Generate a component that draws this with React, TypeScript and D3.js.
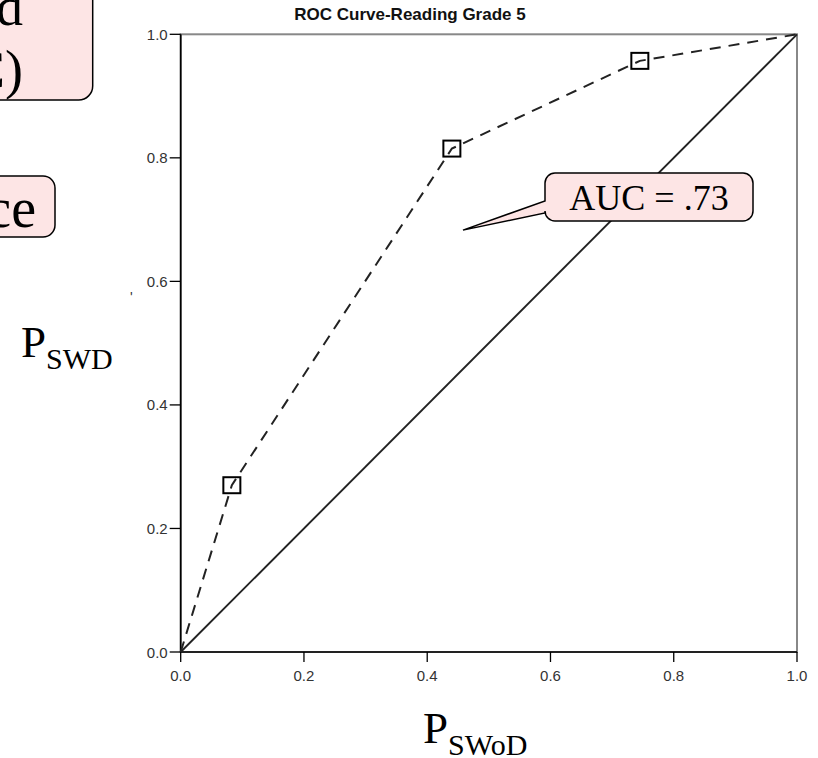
import * as d3 from 'd3'

// ROC points (1 - specificity vs sensitivity)
const rocFpr = [0, 0.083, 0.44, 0.745, 1]
const rocTpr = [0, 0.27, 0.815, 0.957, 1]
const markerIdx = [1, 2, 3]
const tickValues = [0, 0.2, 0.4, 0.6, 0.8, 1]
const chartTitle = 'ROC Curve-Reading Grade 5'
const aucLabel = 'AUC = .73'
const leftBoxLines = ['d', 'C)']
const leftBox2Text = 'ce'

const W = 818
const H = 758
const serif = '"Liberation Serif", "DejaVu Serif", serif'
const sans = '"Liberation Sans", Arial, sans-serif'
const pink = '#fde5e5'

// rounded rect path, optional pointer on the left edge
function calloutPath(x0: number, y0: number, x1: number, y1: number, r: number, ptr?: { ya: number; yb: number; tx: number; ty: number }) {
  const p = d3.path()
  p.moveTo(x0 + r, y0)
  p.lineTo(x1 - r, y0)
  p.arcTo(x1, y0, x1, y0 + r, r)
  p.lineTo(x1, y1 - r)
  p.arcTo(x1, y1, x1 - r, y1, r)
  p.lineTo(x0 + r, y1)
  p.arcTo(x0, y1, x0, y1 - r, r)
  if (ptr) {
    p.lineTo(x0, ptr.yb)
    p.lineTo(ptr.tx, ptr.ty)
    p.lineTo(x0, ptr.ya)
  }
  p.lineTo(x0, y0 + r)
  p.arcTo(x0, y0, x0 + r, y0, r)
  p.closePath()
  return p.toString()
}

export default function App() {
  const x = d3.scaleLinear().domain([0, 1]).range([180.7, 797])
  const y = d3.scaleLinear().domain([0, 1]).range([652, 34.3])
  const pts = rocFpr.map((v, i) => [v, rocTpr[i]] as [number, number])
  const line = d3.line<[number, number]>().x((d) => x(d[0])).y((d) => y(d[1]))
  const fmt = d3.format('.1f')
  const tip = { tx: x(0.458), ty: y(0.683) }

  return (
    <svg width={W} height={H} style={{ position: 'absolute', left: 0, top: 0, background: '#fff' }}>
      {/* left callouts, cut off by the page edge */}
      <path d={calloutPath(-40, -40, 92.7, 100, 14)} fill={pink} stroke="#000" strokeWidth={1.5} />
      {leftBoxLines.map((t, i) => (
        <text key={t} x={23} y={25 + i * 63} textAnchor="end" fontFamily={serif} fontSize={54} fill="#000">
          {t}
        </text>
      ))}
      <path d={calloutPath(-40, 176, 55, 237, 12)} fill={pink} stroke="#000" strokeWidth={1.5} />
      <text x={36} y={227} textAnchor="end" fontFamily={serif} fontSize={56} fill="#000">
        {leftBox2Text}
      </text>

      {/* leftover speck of the hidden y-axis title */}
      <text x={130} y={302} fontFamily={sans} fontSize={14} fill="#333">'</text>

      {/* title */}
      <text x={410} y={20} textAnchor="middle" fontFamily={sans} fontWeight="bold" fontSize={17} fill="#111">
        {chartTitle}
      </text>

      {/* frame */}
      <rect x={x(0)} y={y(1)} width={x(1) - x(0)} height={y(0) - y(1)} fill="none" stroke="#888" strokeWidth={2} />
      <line x1={x(0)} x2={x(0)} y1={y(0)} y2={y(1)} stroke="#000" strokeWidth={1.6} />
      <line x1={x(0)} x2={x(1)} y1={y(0)} y2={y(0)} stroke="#000" strokeWidth={1.6} />

      {/* ticks */}
      {tickValues.map((t) => (
        <g key={'x' + t}>
          <line x1={x(t)} x2={x(t)} y1={y(0)} y2={y(0) + 10} stroke="#000" strokeWidth={1.3} />
          <text x={x(t)} y={y(0) + 29} textAnchor="middle" fontFamily={sans} fontSize={15} fill="#333">
            {fmt(t)}
          </text>
        </g>
      ))}
      {tickValues.map((t) => (
        <g key={'y' + t}>
          <line x1={x(0) - 11} x2={x(0)} y1={y(t)} y2={y(t)} stroke="#000" strokeWidth={1.3} />
          <text x={x(0) - 13} y={y(t) + 5.5} textAnchor="end" fontFamily={sans} fontSize={15} fill="#333">
            {fmt(t)}
          </text>
        </g>
      ))}

      {/* reference diagonal */}
      <path d={line([[0, 0], [1, 1]]) ?? ''} fill="none" stroke="#222" strokeWidth={1.9} />
      {/* ROC curve */}
      <path d={line(pts) ?? ''} fill="none" stroke="#222" strokeWidth={2} strokeDasharray="11,8" />
      {markerIdx.map((i) => (
        <rect key={i} x={x(rocFpr[i]) - 8.5} y={y(rocTpr[i]) - 8} width={17} height={16} fill="none" stroke="#000" strokeWidth={2} />
      ))}

      {/* AUC callout */}
      <path d={calloutPath(545, 173, 753, 221, 10, { ya: 201, yb: 213, ...tip })} fill={pink} stroke="#000" strokeWidth={1.5} />
      <text x={649} y={210} textAnchor="middle" fontFamily={serif} fontSize={36} fill="#000">
        {aucLabel}
      </text>

      {/* axis labels */}
      <text x={21} y={357} fontFamily={serif} fill="#000">
        <tspan fontSize={45}>P</tspan>
        <tspan fontSize={30} dy={12}>SWD</tspan>
      </text>
      <text x={423} y={743} fontFamily={serif} fill="#000">
        <tspan fontSize={45}>P</tspan>
        <tspan fontSize={30} dy={12}>SWoD</tspan>
      </text>
    </svg>
  )
}
